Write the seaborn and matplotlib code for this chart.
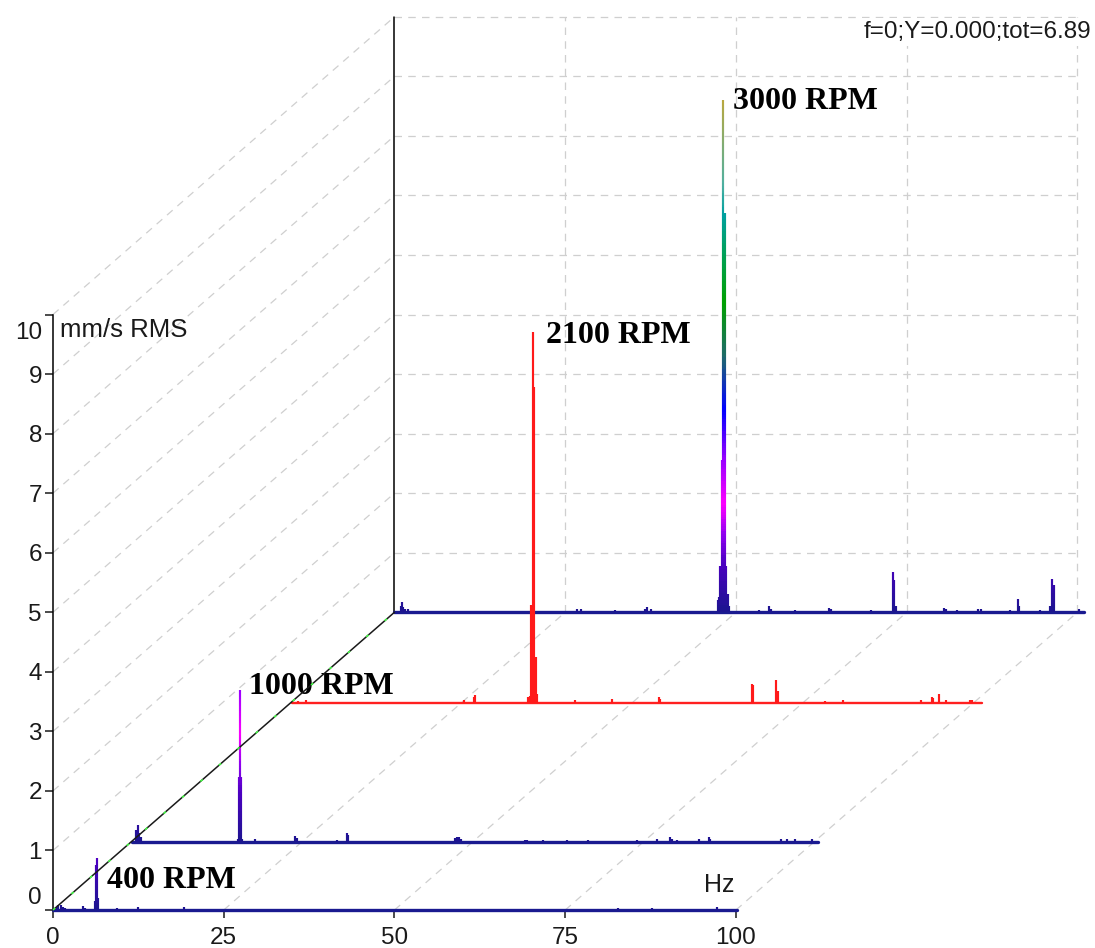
"""Waterfall of vibration spectra at four shaft speeds (mm/s RMS vs Hz)."""
import matplotlib.pyplot as plt
import numpy as np
import pandas as pd
import seaborn as sns
from matplotlib.colors import LinearSegmentedColormap, Normalize
from matplotlib.transforms import ScaledTranslation

sns.set_theme(style="white")
plt.rcParams["font.family"] = ["Liberation Sans", "DejaVu Sans"]

# ---- data -------------------------------------------------------------------
rpm_labels = ["400 RPM", "1000 RPM", "2100 RPM", "3000 RPM"]
# waterfall shift of each spectrum (Hz, mm/s) and the last bin of each trace
offset_x = [0.0, 11.6, 35.0, 50.0]
offset_y = [0.0, 1.14, 3.48, 5.0]
trace_end = [100.1, 100.4, 101.0, 100.9]
label_x = [7.9, 28.7, 72.2, 99.6]
label_y = [0.50, 3.76, 9.64, 13.57]

freq_400 = [0.5, 0.8, 1.1, 1.5, 1.8, 4.4, 4.7, 6.1, 6.3, 6.45, 6.65, 9.3,
            12.5, 19.2, 82.7, 87.7, 97.2]
amp_400 = [0.05, 0.09, 0.08, 0.05, 0.04, 0.06, 0.04, 0.15, 0.75, 0.88, 0.2,
           0.03, 0.05, 0.05, 0.03, 0.03, 0.05]

freq_1000 = [0.6, 0.8, 1.0, 1.3, 15.5, 15.7, 15.85, 15.95, 16.1, 18.0, 23.9,
             24.1, 30.0, 31.4, 31.6, 47.3, 47.6, 47.9, 48.2, 57.5, 57.8, 60.2,
             63.7, 66.7, 73.9, 76.9, 78.8, 79.0, 79.7, 83.0, 84.4, 84.6, 95.0,
             95.9, 97.0, 99.6]
amp_1000 = [0.2, 0.28, 0.15, 0.08, 0.06, 1.1, 2.55, 1.1, 0.06, 0.05, 0.1,
            0.07, 0.04, 0.15, 0.12, 0.07, 0.08, 0.08, 0.06, 0.04, 0.04, 0.04,
            0.04, 0.04, 0.03, 0.05, 0.08, 0.06, 0.04, 0.05, 0.08, 0.06, 0.05,
            0.05, 0.05, 0.05]

freq_2100 = [0.9, 2.1, 25.2, 26.6, 26.8, 34.6, 34.8, 35.0, 35.23, 35.45, 35.7,
             35.9, 41.5, 46.8, 53.7, 53.9, 67.3, 67.5, 70.9, 71.1, 78.1, 80.7,
             92.1, 93.7, 93.9, 94.7, 95.7, 99.2, 99.5]
amp_2100 = [0.03, 0.04, 0.05, 0.1, 0.13, 0.1, 0.12, 1.64, 6.23, 5.3, 0.77,
            0.15, 0.04, 0.07, 0.1, 0.06, 0.31, 0.3, 0.39, 0.2, 0.03, 0.05,
            0.05, 0.1, 0.08, 0.15, 0.05, 0.04, 0.04]

freq_3000 = [0.9, 1.05, 1.3, 1.6, 2.0, 26.7, 27.3, 32.3, 36.7, 37.0, 37.6,
             47.3, 47.5, 47.7, 47.9, 48.14, 48.35, 48.6, 48.8, 49.0, 53.4,
             54.9, 55.1, 58.7, 63.6, 63.9, 69.8, 73.0, 73.2, 73.4, 80.4, 80.7,
             82.4, 85.5, 85.8, 90.1, 91.3, 91.5, 94.5, 96.0, 96.2, 96.5, 100.2]
amp_3000 = [0.1, 0.17, 0.08, 0.05, 0.05, 0.05, 0.05, 0.04, 0.05, 0.08, 0.05,
            0.2, 0.25, 0.77, 2.55, 8.6, 6.7, 0.77, 0.3, 0.1, 0.04, 0.11, 0.06,
            0.04, 0.07, 0.06, 0.04, 0.68, 0.54, 0.1, 0.07, 0.05, 0.04, 0.05,
            0.05, 0.04, 0.22, 0.1, 0.04, 0.1, 0.55, 0.45, 0.05]

freqs = [freq_400, freq_1000, freq_2100, freq_3000]
amps = [amp_400, amp_1000, amp_2100, amp_3000]
trace_colors = [None, None, "#ff1a1a", None]   # None -> amplitude colour map
base_colors = ["#1a1a90", "#1a1a90", "#ff2020", "#1a1a90"]

# amplitude colour ramp of the analyser (mm/s above the trace baseline)
cmap_heights = [0, 0.8, 1.3, 1.8, 2.5, 3.4, 4.3, 5.2, 6.7, 7.2, 8.6]
cmap_colors = ["#1c1490", "#4a00c0", "#9000f0", "#ff00ff", "#a000ff",
               "#0000ff", "#1f6a6a", "#00a000", "#00a0a0", "#50b0a0", "#b8a840"]

x_ticks = [0, 25, 50, 75, 100]
y_ticks = list(range(11))

# ---- figure -----------------------------------------------------------------
PX_X, PX_Y = 6.83, 59.55          # pixels per Hz / per mm/s
fig = plt.figure(figsize=(10.95, 9.48), dpi=100)
ax = fig.add_axes([0, 0, 1, 1])
ax.set_xlim(-53 / PX_X, (1095 - 53) / PX_X)
ax.set_ylim(-(948 - 910) / PX_Y, 910 / PX_Y)

grid_kw = dict(color="#cfcfcf", lw=0.9, dashes=(6, 5), zorder=1)
back_x, back_y = offset_x[-1], offset_y[-1]
for k in y_ticks[1:]:
    ax.plot([0, back_x], [k, back_y + k], **grid_kw)
    ax.plot([back_x, back_x + 100], [back_y + k, back_y + k], **grid_kw)
for xt in x_ticks[1:]:
    ax.plot([xt, xt + back_x], [0, back_y], **grid_kw)
    ax.plot([back_x + xt, back_x + xt], [back_y, back_y + 10], **grid_kw)
ax.plot([back_x, back_x], [back_y, back_y + 10], color="black", lw=1.1, zorder=2)
ax.plot([back_x, back_x + trace_end[-1]], [back_y, back_y], color="black",
        lw=1.0, zorder=2)

cmap = LinearSegmentedColormap.from_list(
    "wf", list(zip(np.array(cmap_heights) / cmap_heights[-1], cmap_colors)))
norm = Normalize(0, cmap_heights[-1])


def draw_spikes(f, a, dx, dy, color, zorder, step=0.04):
    xs, lo, hi, cols = [], [], [], []
    for fi, ai in zip(f, a):
        edges = np.append(np.arange(0, ai, step), ai)
        for e0, e1 in zip(edges[:-1], edges[1:]):
            xs.append(fi + dx)
            lo.append(e0 + dy)
            hi.append(e1 + dy)
            cols.append(color if color else cmap(norm((e0 + e1) / 2)))
    ax.vlines(xs, lo, hi, colors=cols, lw=1.55, zorder=zorder)


# back to front
for i in reversed(range(len(rpm_labels))):
    z = 3 + (len(rpm_labels) - i)
    base = pd.DataFrame({"Hz": [offset_x[i], offset_x[i] + trace_end[i]],
                         "v": [offset_y[i], offset_y[i]]})
    sns.lineplot(data=base, x="Hz", y="v", color=base_colors[i],
                 lw=1.7 if i == 2 else 2.4, ax=ax, zorder=z)
    draw_spikes(freqs[i], amps[i], offset_x[i], offset_y[i],
                trace_colors[i], z + 0.1)
    ax.text(label_x[i], label_y[i], rpm_labels[i], family="Liberation Serif",
            weight="bold", fontsize=23, ha="left", va="center",
            color="black", zorder=8)

# frequency origin of each spectrum
ax.plot([0, back_x], [0, back_y], color="#1a1a1a", lw=1.1, zorder=9)
ax.plot([0, back_x], [0, back_y], color="#44ff44", lw=1.1,
        dashes=(2, 14), zorder=9.5)

# ---- axes -------------------------------------------------------------------
for side in ["top", "right"]:
    ax.spines[side].set_visible(False)
ax.spines["left"].set_position(("data", 0))
ax.spines["bottom"].set_position(("data", 0))
ax.spines["left"].set_bounds(0, 10)
ax.spines["bottom"].set_bounds(0, 100)
for side in ["left", "bottom"]:
    ax.spines[side].set_color("black")
    ax.spines[side].set_linewidth(1.1)
    ax.spines[side].set_zorder(2.5)
ax.set_xticks(x_ticks)
ax.set_yticks(y_ticks)
ax.set_xlabel("")
ax.set_ylabel("")
ax.tick_params(axis="both", direction="out", length=6, width=1.1,
               colors="#1a1a1a", labelsize=17.5, left=True, bottom=True)
ax.tick_params(axis="x", pad=6)
ax.tick_params(axis="y", pad=2)

yt = ax.yaxis.get_major_ticks()
yt[0].label1.set_transform(yt[0].label1.get_transform()
                           + ScaledTranslation(0, 0.15, fig.dpi_scale_trans))
yt[-1].label1.set_transform(yt[-1].label1.get_transform()
                            + ScaledTranslation(0, -0.16, fig.dpi_scale_trans))

ax.text(1.0, 9.74, "mm/s RMS", fontsize=18.5, ha="left", va="center",
        color="#1a1a1a", zorder=8)
ax.text(99.8, 0.42, "Hz", fontsize=18, ha="right", va="center",
        color="#1a1a1a", zorder=8)
fig.text(0.997, 1 - 32 / 948, "f=0;Y=0.000;tot=6.89", fontsize=17.5,
         ha="right", va="center", color="#1a1a1a",
         bbox=dict(facecolor="white", edgecolor="none", pad=2))

fig.savefig("out.png", dpi=100)
